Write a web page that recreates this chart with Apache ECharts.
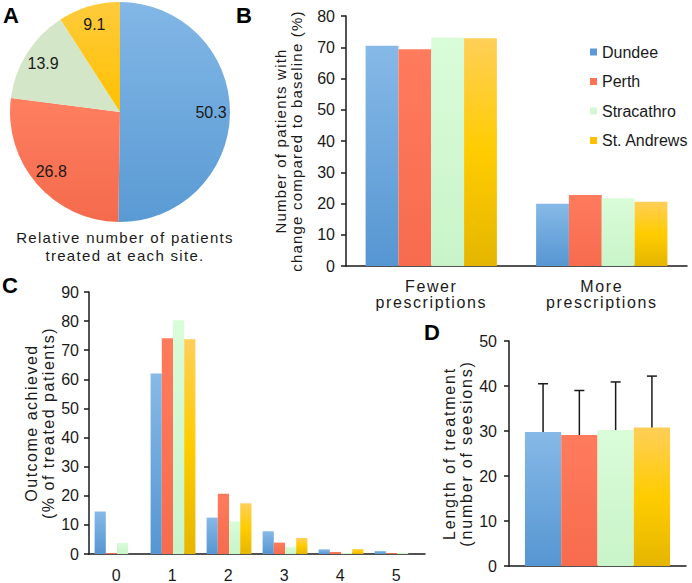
<!DOCTYPE html>
<html><head><meta charset="utf-8">
<script src="https://cdn.jsdelivr.net/npm/echarts@6/dist/echarts.min.js"></script>
<style>
html,body{margin:0;padding:0;background:#fff;}
#c{width:692px;height:583px;}
#c text[style*="SpcA"]{letter-spacing:1.3px;}
#c text[style*="SpcB"]{letter-spacing:1.2px;}
#c text[style*="SpcC"]{letter-spacing:1.6px;}
#c text[style*="SpcD"]{letter-spacing:1.5px;}
#c text[style*="SpcE"]{letter-spacing:1.8px;}
</style></head><body><div id="c"></div>
<script>
// ---- data ----
const sites = ['Dundee', 'Perth', 'Stracathro', 'St. Andrews'];
const pieShares = [50.3, 26.8, 13.9, 9.1];

const prescCategories = ['Fewer\nprescriptions', 'More\nprescriptions'];
const prescDundee = [70.5, 19.9];
const prescPerth = [69.4, 22.7];
const prescStracathro = [73.1, 21.7];
const prescStAndrews = [72.9, 20.6];

const outcomeCategories = ['0', '1', '2', '3', '4', '5'];
const outcomeDundee = [14.6, 62.0, 12.5, 7.8, 1.6, 1.0];
const outcomePerth = [0.3, 74.1, 20.7, 3.9, 0.7, 0.3];
const outcomeStracathro = [3.8, 80.3, 11.2, 2.4, 0.4, 0.4];
const outcomeStAndrews = [0, 73.8, 17.4, 5.5, 1.7, 0];

const lengthCategories = [''];
const lengthMean = [29.8, 29.1, 30.2, 30.8];
const lengthUpper = [40.5, 39.0, 40.9, 42.2];

// ---- styles ----
const FONT = '"Liberation Sans", Arial, sans-serif';
const TXT = '#1a1a1a';
function grad(stops) {
  return { type: 'linear', x: 0, y: 0, x2: 0, y2: 1,
    colorStops: stops.map((c, i) => ({ offset: i / (stops.length - 1), color: c })) };
}
const barColors = [
  grad(['#86b9e7', '#5696d2']),
  grad(['#ff7b5d', '#f76b4e']),
  grad(['#d9fcd9', '#c9f4c9']),
  grad(['#ffcf58', '#ffcc00', '#e5b600'])
];
const solidColors = ['#5b9bd5', '#ff7256', '#d3f7d3', '#ffc000'];
const pieColors = [
  grad(['#82b7e6', '#5a9ad4']),
  grad(['#ff7f61', '#f46a4c']),
  '#d3e6c8',
  grad(['#ffcb3c', '#ffc000'])
];

const prescSeries = [prescDundee, prescPerth, prescStracathro, prescStAndrews];
const outcomeSeries = [outcomeDundee, outcomePerth, outcomeStracathro, outcomeStAndrews];

const chart = echarts.init(document.getElementById('c'), null, { renderer: 'svg' });

const axisLineStyle = { color: '#1a1a1a', width: 1.5 };
function yAx(gi, max, margin, name, nameGap, fam, fs) {
  return {
    type: 'value', gridIndex: gi, min: 0, max: max, interval: 10,
    axisLine: { show: true, lineStyle: axisLineStyle },
    axisTick: { show: true, length: 5, lineStyle: axisLineStyle },
    splitLine: { show: false },
    axisLabel: { fontFamily: FONT, fontSize: 16, color: TXT, margin: margin },
    name: name, nameLocation: 'middle', nameGap: nameGap, nameRotate: 90,
    nameTextStyle: { fontFamily: fam, fontSize: fs, color: TXT, lineHeight: fs + 1 }
  };
}
function xAx(gi, data, showLabel, margin) {
  return {
    type: 'category', gridIndex: gi, data: data,
    axisLine: { show: true, lineStyle: axisLineStyle },
    axisTick: { show: false },
    axisLabel: { show: showLabel, fontFamily: '"Liberation Sans", Arial, SpcC', fontSize: 16,
      color: TXT, margin: margin, lineHeight: 16, interval: 0 }
  };
}

const series = [];
// A: pie
series.push({
  type: 'pie', center: [120, 112], radius: [0, 110], startAngle: 90, clockwise: true,
  silent: true, label: { show: false }, labelLine: { show: false },
  data: sites.map((s, i) => ({ name: s, value: pieShares[i], itemStyle: { color: pieColors[i] } }))
});
series.push({
  type: 'pie', center: [120, 112], radius: [66, 110], startAngle: 90, clockwise: true,
  silent: true, z: 3,
  itemStyle: { color: 'rgba(0,0,0,0)' },
  label: { show: true, position: 'inside', formatter: '{c}', fontFamily: FONT, fontSize: 16, color: TXT },
  labelLine: { show: false },
  data: sites.map((s, i) => ({ name: s, value: pieShares[i] }))
});
// B
sites.forEach((s, i) => series.push({
  type: 'bar', name: s, xAxisIndex: 0, yAxisIndex: 0, data: prescSeries[i],
  barGap: 0, barCategoryGap: '23%', itemStyle: { color: barColors[i] }, silent: true
}));
// C
sites.forEach((s, i) => series.push({
  type: 'bar', name: s, xAxisIndex: 1, yAxisIndex: 1, data: outcomeSeries[i],
  barGap: 0, barCategoryGap: '20%', itemStyle: { color: barColors[i] }, silent: true
}));
// D
const dGap = 0.18;
sites.forEach((s, i) => series.push({
  type: 'bar', name: s, xAxisIndex: 2, yAxisIndex: 2, data: [lengthMean[i]],
  barGap: 0, barCategoryGap: (dGap * 100) + '%', itemStyle: { color: barColors[i] }, silent: true
}));
series.push({
  type: 'custom', xAxisIndex: 2, yAxisIndex: 2, z: 5, silent: true,
  data: lengthMean.map((m, i) => [0, m, lengthUpper[i], i]),
  encode: { x: 0, y: [1, 2] },
  renderItem: function (params, api) {
    const idx = api.value(3);
    const band = api.size([1, 0])[0];
    const groupW = band * (1 - dGap);
    const barW = groupW / sites.length;
    const base = api.coord([api.value(0), api.value(1)]);
    const top = api.coord([api.value(0), api.value(2)]);
    const cx = base[0] - groupW / 2 + barW * (idx + 0.5);
    const st = { stroke: '#1a1a1a', lineWidth: 1.5 };
    return { type: 'group', children: [
      { type: 'line', shape: { x1: cx, y1: base[1], x2: cx, y2: top[1] }, style: st },
      { type: 'line', shape: { x1: cx - 5, y1: top[1], x2: cx + 5, y2: top[1] }, style: st }
    ] };
  }
});

chart.setOption({
  animation: false,
  backgroundColor: '#fff',
  grid: [
    { left: 346, top: 16, width: 341, height: 250 },
    { left: 89, top: 292, width: 336, height: 263 },
    { left: 509, top: 341, width: 177, height: 225 }
  ],
  xAxis: [
    xAx(0, prescCategories, true, 12),
    xAx(1, outcomeCategories, true, 13),
    xAx(2, lengthCategories, false, 10)
  ],
  yAxis: [
    yAx(0, 80, 11, 'Number of patients with\nchange compared to baseline (%)', 42, '"Liberation Sans", Arial, SpcB', 15),
    yAx(1, 90, 10, 'Outcome achieved\n(% of treated patients)', 30, '"Liberation Sans", Arial, SpcD', 16),
    yAx(2, 50, 12, 'Length of treatment\n(number of seesions)', 29, '"Liberation Sans", Arial, SpcE', 16)
  ],
  legend: {
    orient: 'vertical', left: 590, top: 44, padding: 0, itemGap: 13.5,
    itemWidth: 7, itemHeight: 7, selectedMode: false,
    textStyle: { fontFamily: FONT, fontSize: 16, color: TXT },
    data: sites.map((s, i) => ({ name: s, icon: 'rect', itemStyle: { color: solidColors[i] } }))
  },
  graphic: [
    { type: 'text', x: 11, y: 15, style: { text: 'A', font: 'bold 22px "Liberation Sans", Arial', fill: '#000', textAlign: 'center', textVerticalAlign: 'middle' } },
    { type: 'text', x: 244, y: 15, style: { text: 'B', font: 'bold 22px "Liberation Sans", Arial', fill: '#000', textAlign: 'center', textVerticalAlign: 'middle' } },
    { type: 'text', x: 10, y: 285, style: { text: 'C', font: 'bold 22px "Liberation Sans", Arial', fill: '#000', textAlign: 'center', textVerticalAlign: 'middle' } },
    { type: 'text', x: 432, y: 332, style: { text: 'D', font: 'bold 22px "Liberation Sans", Arial', fill: '#000', textAlign: 'center', textVerticalAlign: 'middle' } },
    { type: 'text', x: 125, y: 246, style: { text: 'Relative number of patients\ntreated at each site.', font: '15px "Liberation Sans", Arial, SpcA', fill: TXT, textAlign: 'center', textVerticalAlign: 'middle', lineHeight: 18 } }
  ],
  series: series
});
</script></body></html>
